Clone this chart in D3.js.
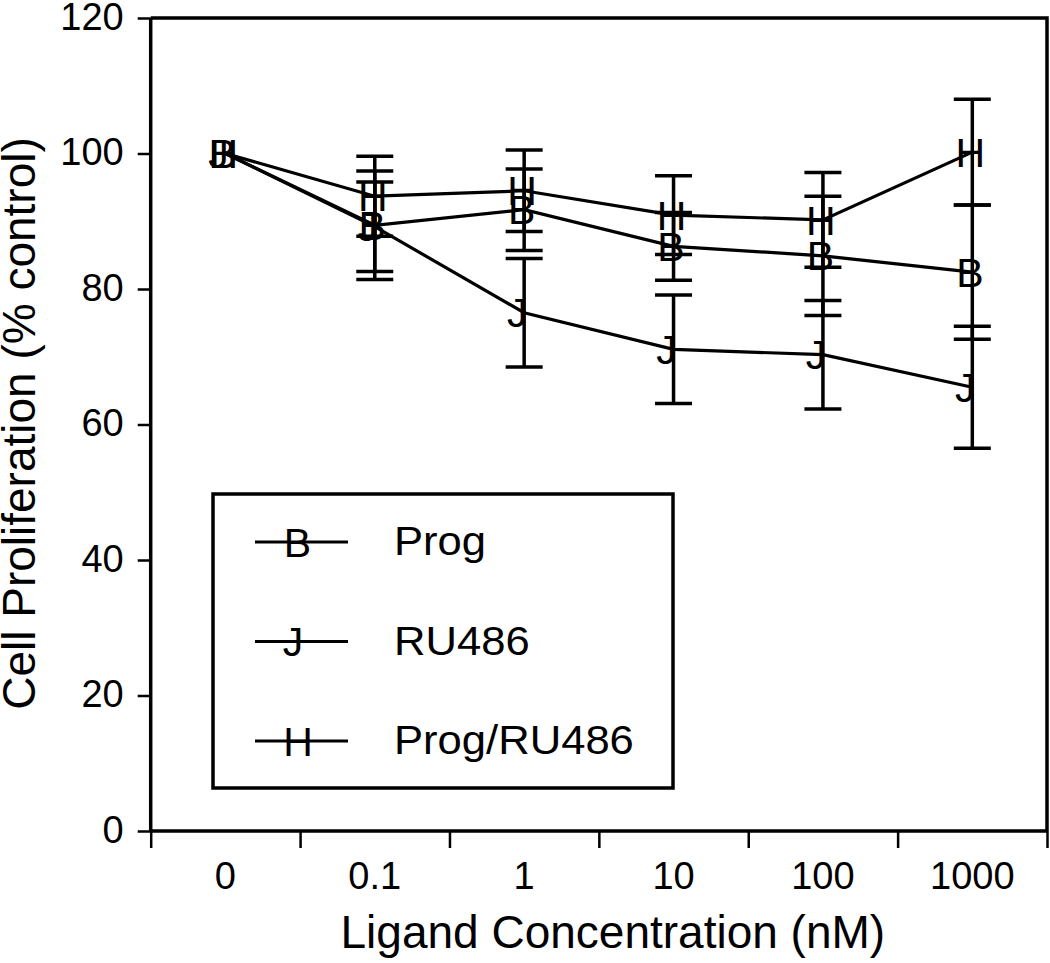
<!DOCTYPE html>
<html>
<head>
<meta charset="utf-8">
<script src="https://cdn.jsdelivr.net/npm/d3@7"></script>
<style>
  html, body { margin: 0; padding: 0; background: #fff; }
  svg text { font-family: "Liberation Sans", Arial, Helvetica, sans-serif; fill: #000; }
</style>
</head>
<body>
<svg id="chart" width="1050" height="963"></svg>
<script>
// ---- data ----
const categories = ["0", "0.1", "1", "10", "100", "1000"];
const progMean  = [100, 89.4, 91.7, 86.3, 84.9, 82.5];
const progErr   = [0, 8.0, 6.0, 5.0, 8.8, 9.9];
const ru486Mean = [100, 89.2, 76.5, 71.1, 70.3, 65.5];
const ru486Err  = [0, 6.6, 8.0, 8.0, 8.0, 9.0];
const comboMean = [100, 93.7, 94.5, 90.9, 90.2, 100.2];
const comboErr  = [0, 5.9, 6.0, 5.8, 7.0, 7.8];
const yTicks = [0, 20, 40, 60, 80, 100, 120];
const seriesNames = ["Prog", "RU486", "Prog/RU486"];
const seriesSymbols = ["B", "J", "H"];

const series = [
  { name: seriesNames[0], sym: seriesSymbols[0], mean: progMean,  err: progErr,  dx: -2.5 },
  { name: seriesNames[1], sym: seriesSymbols[1], mean: ru486Mean, err: ru486Err, dx: -7 },
  { name: seriesNames[2], sym: seriesSymbols[2], mean: comboMean, err: comboErr, dx: -2 }
];

// ---- layout ----
const L = 150.7, R = 1047, T = 18, B = 831;
const svg = d3.select("#chart");

const x = d3.scaleBand().domain(categories).range([L, R]).padding(0);
const xc = c => x(c) + x.bandwidth() / 2;
const y = d3.scaleLinear().domain([0, 120]).range([B, T]);

const SW = 3.5;

// frame (top and right)
svg.append("path")
  .attr("d", `M${L},${T} H${R} V${B}`)
  .attr("fill", "none").attr("stroke", "#000").attr("stroke-width", SW);

// y axis
const yAxis = svg.append("g").attr("transform", `translate(${L},0)`)
  .call(d3.axisLeft(y).tickValues(yTicks).tickSize(13).tickPadding(14).tickFormat(d3.format("d")));
yAxis.select(".domain").attr("stroke-width", SW).attr("d", `M0,${T}V${B}`);
yAxis.selectAll(".tick line").attr("stroke-width", 2.5);
yAxis.selectAll(".tick text").attr("font-size", 38).attr("dy", "0.30em")
  .style("font-family", "'Liberation Sans', Arial, sans-serif");

// x axis: ticks at band edges
const edges = d3.scaleLinear().domain([0, categories.length]).range([L, R]);
const xAxisTicks = svg.append("g").attr("transform", `translate(0,${B})`)
  .call(d3.axisBottom(edges).ticks(categories.length).tickSize(17).tickFormat(""));
xAxisTicks.select(".domain").attr("stroke-width", SW).attr("d", `M${L},0H${R}`);
xAxisTicks.selectAll(".tick line").attr("stroke-width", 2.5);

// x labels at band centres
const xAxisLabels = svg.append("g").attr("transform", `translate(0,${B})`)
  .call(d3.axisBottom(x).tickSize(0).tickPadding(31));
xAxisLabels.select(".domain").remove();
xAxisLabels.selectAll(".tick text").attr("font-size", 38).attr("dy", "0.71em")
  .style("font-family", "'Liberation Sans', Arial, sans-serif");

// axis titles
svg.append("text")
  .attr("x", (L + R) / 2 + 14).attr("y", 948)
  .attr("text-anchor", "middle").attr("font-size", 46)
  .text("Ligand Concentration (nM)");
svg.append("text")
  .attr("transform", `translate(35,${(T + B) / 2 - 1}) rotate(-90)`)
  .attr("text-anchor", "middle").attr("font-size", 46)
  .text("Cell Proliferation (% control)");

// lines
const line = d3.line().x(d => xc(d.c)).y(d => y(d.v));
series.forEach(s => {
  const pts = categories.map((c, i) => ({ c, v: s.mean[i] }));
  svg.append("path").datum(pts)
    .attr("d", line).attr("fill", "none")
    .attr("stroke", "#000").attr("stroke-width", 3.2);
});

// error bars
const capW = 37;
series.forEach(s => {
  categories.forEach((c, i) => {
    const e = s.err[i];
    if (!e) return;
    const cx = xc(c), y1 = y(s.mean[i] + e), y2 = y(s.mean[i] - e);
    const g = svg.append("g").attr("stroke", "#000").attr("stroke-width", 3.5);
    g.append("line").attr("x1", cx).attr("x2", cx).attr("y1", y1).attr("y2", y2);
    g.append("line").attr("x1", cx - capW / 2).attr("x2", cx + capW / 2).attr("y1", y1).attr("y2", y1);
    g.append("line").attr("x1", cx - capW / 2).attr("x2", cx + capW / 2).attr("y1", y2).attr("y2", y2);
  });
});

// markers (text symbols centred on the point)
const MF = 41;
series.forEach(s => {
  svg.append("g").selectAll("text")
    .data(categories.map((c, i) => ({ c, v: s.mean[i] })))
    .join("text")
    .attr("x", d => xc(d.c) + s.dx)
    .attr("y", d => y(d.v) + MF * 0.716 / 2)
    .attr("text-anchor", "middle")
    .attr("font-size", MF)
    .text(s.sym);
});

// legend
const lg = svg.append("g");
lg.append("rect").attr("x", 213).attr("y", 494).attr("width", 460).attr("height", 294)
  .attr("fill", "none").attr("stroke", "#000").attr("stroke-width", SW);
series.forEach((s, i) => {
  const ly = 542 + i * 99.5;
  lg.append("line").attr("x1", 255).attr("x2", 348).attr("y1", ly).attr("y2", ly)
    .attr("stroke", "#000").attr("stroke-width", 3.2);
  lg.append("text").attr("x", 300 + s.dx).attr("y", ly + MF * 0.716 / 2)
    .attr("text-anchor", "middle").attr("font-size", MF).text(s.sym);
  lg.append("text")
    .attr("transform", `translate(394,${ly + 13}) scale(1.09,1)`)
    .attr("font-size", 40).text(s.name);
});
</script>
</body>
</html>
